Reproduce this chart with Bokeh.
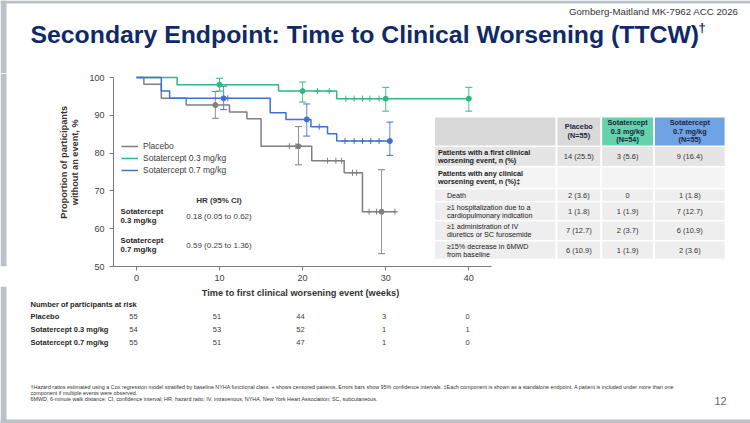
import numpy as np
from bokeh.plotting import figure
from bokeh.layouts import column, row
from bokeh.models import (Range1d, Label, Legend, LegendItem, Whisker, ColumnDataSource,
                          FixedTicker, TeeHead)
from bokeh.embed import file_html
from bokeh.resources import INLINE

# ---------------- data ----------------
groups = ["Placebo", "Sotatercept 0.3 mg/kg", "Sotatercept 0.7 mg/kg"]

placebo_t = [0, 0.9, 3.0, 6.0, 11.2, 13.3, 15.0, 21.1, 25.0, 27.2, 31.3]
placebo_s = [100, 98.2, 94.5, 92.7, 90.9, 89.1, 81.8, 78.0, 74.8, 64.5, 64.5]
low_t = [0, 4.9, 17.1, 24.1, 40.2]
low_s = [100, 98.1, 96.4, 94.4, 94.4]
high_t = [0, 3.0, 4.0, 16.1, 18.0, 21.0, 23.0, 24.1, 30.7]
high_s = [100, 96.4, 94.5, 90.7, 88.9, 87.0, 85.1, 83.2, 83.2]

placebo_cens = [18.4, 19.2, 23.0, 24.0, 24.7, 26.0, 26.5, 28.0, 28.9, 31.1]
low_cens = [21.8, 23.2, 25.2, 26.2, 27.2, 28.1, 29.2]
high_cens = [11.0, 22.0, 25.1, 26.2, 27.2, 28.2, 29.2]

ci_weeks_placebo = [10, 20, 30]
ci_est_placebo = [92.7, 81.8, 64.5]
ci_low_placebo = [89.2, 76.9, 53.4]
ci_up_placebo = [96.3, 87.0, 75.6]

ci_weeks_low = [10, 20, 30, 40]
ci_est_low = [98.1, 96.4, 94.4, 94.4]
ci_low_low = [96.4, 93.5, 91.1, 91.1]
ci_up_low = [99.8, 98.8, 97.4, 97.4]

ci_weeks_high = [10, 20, 30]
ci_est_high = [94.5, 88.9, 83.2]
ci_low_high = [91.5, 84.5, 79.4]
ci_up_high = [97.7, 93.0, 88.2]

x_ticks = [0, 10, 20, 30, 40]
y_ticks = [50, 60, 70, 80, 90, 100]

risk_weeks = [0, 10, 20, 30, 40]
risk_placebo = [55, 51, 44, 3, 0]
risk_low = [54, 53, 52, 1, 1]
risk_high = [55, 51, 47, 1, 0]

hr_rows = ["Sotatercept\n0.3 mg/kg", "Sotatercept\n0.7 mg/kg"]
hr_values = ["0.18 (0.05 to 0.62)", "0.59 (0.25 to 1.36)"]

table_cols = ["Placebo\n(N=55)", "Sotatercept\n0.3 mg/kg\n(N=54)", "Sotatercept\n0.7 mg/kg\n(N=55)"]
table_rows = ["Patients with a first clinical\nworsening event, n (%)",
              "Patients with any clinical\nworsening event, n (%)\u2021",
              "Death",
              "\u22651 hospitalization due to a\ncardiopulmonary indication",
              "\u22651 administration of IV\ndiuretics or SC furosemide",
              "\u226515% decrease in 6MWD\nfrom baseline"]
table_placebo = ["14 (25.5)", "", "2 (3.6)", "1 (1.8)", "7 (12.7)", "6 (10.9)"]
table_low = ["3 (5.6)", "", "0", "1 (1.9)", "2 (3.7)", "1 (1.9)"]
table_high = ["9 (16.4)", "", "1 (1.8)", "7 (12.7)", "6 (10.9)", "2 (3.6)"]

footnotes = [
    "\u2020Hazard ratios estimated using a Cox regression model stratified by baseline NYHA functional class. + shows censored patients. Errors bars show 95% confidence intervals. \u2021Each component is shown as a standalone endpoint. A patient is included under more than one",
    "component if multiple events were observed.",
    "6MWD, 6-minute walk distance; CI, confidence interval; HR, hazard ratio; IV, intravenous; NYHA, New York Heart Association; SC, subcutaneous.",
]

# ---------------- styles / layout ----------------
FONT = "Liberation Sans"
C_PL, C_LO, C_HI = "#7f7f7f", "#2fb784", "#3d70d3"
NAVY = "#0f2a66"
TXT = "#262626"
EDGE = "#bcc0c8"

W, H = 750, 423
TOP_H = 73            # title band
MID_B = 286           # bottom of the chart band
LEFT_W = 86           # width of the y-title strip
FL, FR, FT, FB = 110, 750, 73, 266
X0PX, X40PX = 133, 467
Y100PX, Y50PX = 77, 266
ppw = (X40PX - X0PX) / 40.0
ppu = (Y50PX - Y100PX) / 50.0


def blank(x0, x1, y0, y1):
    f = figure(width=x1 - x0, height=y1 - y0, output_backend="svg", toolbar_location=None,
               x_range=Range1d(x0, x1), y_range=Range1d(y1, y0),
               x_axis_location=None, y_axis_location=None, min_border=0,
               background_fill_color="white", border_fill_color="white")
    f.outline_line_color = None
    f.grid.visible = False
    return f


def lab(f, x, y, text, size=7.0, bold=False, color=TXT, align="left", baseline="middle",
        angle=0.0, xr="default", yr="default"):
    f.add_layout(Label(x=x, y=y, text=text, x_range_name=xr, y_range_name=yr,
                       text_font=FONT, text_font_size=f"{size}px",
                       text_font_style="bold" if bold else "normal",
                       text_color=color, text_align=align, text_baseline=baseline,
                       angle=angle))


def multiline(f, x, y_center, text, size, lh, **kw):
    lines = text.split("\n")
    n = len(lines)
    for i, ln in enumerate(lines):
        lab(f, x, y_center + (i - (n - 1) / 2) * lh, ln, size, **kw)


# ---------------- top band ----------------
top = blank(0, W, 0, TOP_H)
top.quad(left=[0, 0], right=[6, W], top=[0, 0], bottom=[TOP_H, 3], fill_color=EDGE, line_color=None)
lab(top, 30, 34, "Secondary Endpoint: Time to Clinical Worsening (TTCW)", 24.8, bold=True, color=NAVY)
lab(top, 698, 27, "\u2020", 13, bold=True, color=NAVY)
lab(top, 738, 11, "Gomberg-Maitland MK-7962 ACC 2026", 9.7, color="#333333", align="right")

# ---------------- left strip (y title) ----------------
left = blank(0, LEFT_W, TOP_H, MID_B)
left.quad(left=[0], right=[6], top=[TOP_H], bottom=[MID_B], fill_color=EDGE, line_color=None)
lab(left, 63, 171, "Proportion of participants", 9.2, bold=True, color="#333333", align="center", angle=np.pi / 2)
lab(left, 74, 171, "without an event, %", 9.2, bold=True, color="#333333", align="center", angle=np.pi / 2)

# ---------------- chart band ----------------
p = figure(width=W - LEFT_W, height=MID_B - TOP_H, output_backend="svg", toolbar_location=None,
           x_range=Range1d(-(X0PX - FL) / ppw, (FR - X0PX) / ppw),
           y_range=Range1d(50 - (FB - Y50PX) / ppu, 100 + (Y100PX - FT) / ppu),
           min_border_left=FL - LEFT_W, min_border_right=W - FR,
           min_border_top=FT - TOP_H, min_border_bottom=MID_B - FB,
           background_fill_color="white", border_fill_color="white")
p.extra_x_ranges = {"px": Range1d(FL, FR)}
p.extra_y_ranges = {"py": Range1d(FB, FT)}
p.outline_line_color = None
p.grid.visible = False

for ax in (p.xaxis[0], p.yaxis[0]):
    ax.axis_line_color = "#7a7a7a"
    ax.major_tick_line_color = "#7a7a7a"
    ax.major_tick_out = 4
    ax.major_tick_in = 0
    ax.minor_tick_line_color = None
    ax.major_label_text_font = FONT
    ax.major_label_text_font_size = "9px"
    ax.major_label_text_color = "#404040"
p.xaxis[0].major_label_standoff = 4
p.yaxis[0].major_label_standoff = 5
p.xaxis[0].ticker = FixedTicker(ticks=x_ticks)
p.yaxis[0].ticker = FixedTicker(ticks=y_ticks)
p.xaxis[0].bounds = (p.x_range.start, (490 - X0PX) / ppw)
p.yaxis[0].bounds = (50, 100)

# table backgrounds
col_edges = [(433, 554), (556, 599), (601, 652), (654, 724)]
row_edges = [(117, 145), (146.5, 165.5), (167, 187.5), (189, 200.5), (202, 219.5), (221, 239.5), (241, 258)]
row_fill = ["#d9d9d9", "#e5e5e5", "#f4f4f4", "#eeeeee", "#eeeeee", "#eeeeee", "#eeeeee"]
head_fill = ["#d9d9d9", "#d9d9d9", "#64d2ab", "#70a3e6"]
ql, qr, qt, qb, qc = [], [], [], [], []
for ri, (t_, b_) in enumerate(row_edges):
    for ci, (l_, r_) in enumerate(col_edges):
        ql.append(l_); qr.append(r_); qt.append(t_); qb.append(b_)
        qc.append(head_fill[ci] if ri == 0 else row_fill[ri])
p.quad(left=ql, right=qr, top=qt, bottom=qb, fill_color=qc, line_color=None,
       x_range_name="px", y_range_name="py")


def surv_at(ts, ss, c):
    i = np.searchsorted(np.array(ts), np.array(c), side="right") - 1
    return list(np.array(ss)[i])


series = [
    (placebo_t, placebo_s, placebo_cens, ci_weeks_placebo, ci_est_placebo, ci_low_placebo, ci_up_placebo, C_PL, -0.5),
    (low_t, low_s, low_cens, ci_weeks_low, ci_est_low, ci_low_low, ci_up_low, C_LO, 0.0),
    (high_t, high_s, high_cens, ci_weeks_high, ci_est_high, ci_low_high, ci_up_high, C_HI, 0.5),
]
renderers = []
for ts, ss, cens, cw, ce, cl, cu, col, dodge in series:
    r = p.step(ts, ss, mode="after", line_color=col, line_width=1.5)
    renderers.append(r)
    p.scatter(cens, surv_at(ts, ss, cens), marker="cross", size=6, line_color=col, line_width=1)
    xs = [w + dodge for w in cw]
    src = ColumnDataSource(dict(x=xs, lo=cl, up=cu))
    p.add_layout(Whisker(source=src, base="x", lower="lo", upper="up", dimension="height",
                         line_color=col, line_width=1, line_alpha=0.85,
                         upper_head=TeeHead(size=7, line_color=col, line_width=1),
                         lower_head=TeeHead(size=7, line_color=col, line_width=1)))
    p.scatter(xs, ce, marker="circle", size=5, fill_color=col, line_color=col)

legend = Legend(items=[LegendItem(label=g, renderers=[r]) for g, r in zip(groups, renderers)],
                location=(8, 90), background_fill_alpha=0, border_line_color=None,
                padding=0, spacing=0, margin=0, label_text_font=FONT,
                label_text_font_size="8.5px", label_text_color="#404040",
                glyph_width=17, glyph_height=12, label_height=12, label_standoff=5)
p.add_layout(legend)

PX = dict(xr="px", yr="py")
# HR block
lab(p, 216, 200, "HR (95% CI)", 8, bold=True, color="#333333", align="center", **PX)
for rname, val, yc in zip(hr_rows, hr_values, [215.5, 244.5]):
    multiline(p, 117, yc, rname, 7.8, 9.5, bold=True, color="#262626", **PX)
    lab(p, 216, yc, val, 8, color="#404040", align="center", **PX)

# summary table text
col_centers = [577.5, 626.5, 689]
for txt, cx in zip(table_cols, col_centers):
    multiline(p, cx, 130.5, txt, 7.3, 8.6, bold=True, color="#1c2540", align="center", **PX)
row_centers = [156, 176.5, 194.5, 210.5, 230, 249.5]
for ri, (rtxt, yc) in enumerate(zip(table_rows, row_centers)):
    bold = ri < 2
    multiline(p, 436 if bold else 445, yc, rtxt, 7.2, 8.0, bold=bold, color="#1a1a1a", **PX)
    for vals, cx in zip([table_placebo, table_low, table_high], col_centers):
        if vals[ri]:
            lab(p, cx, yc, vals[ri], 7.5, color="#333333", align="center", **PX)

# ---------------- bottom band ----------------
bot = blank(0, W, MID_B, H)
bot.extra_x_ranges = {"wk": Range1d(-X0PX / ppw, (W - X0PX) / ppw)}
bot.quad(left=[0, 0], right=[6, W], top=[MID_B, 419], bottom=[H, H], fill_color=EDGE, line_color=None)
lab(bot, 300, 292, "Time to first clinical worsening event (weeks)", 9.2, bold=True, color="#333333", align="center")
lab(bot, 30, 304, "Number of participants at risk", 7.5, bold=True, color="#262626")
for gname, counts, yy in zip(groups, [risk_placebo, risk_low, risk_high], [316, 329, 342]):
    lab(bot, 30, yy, gname, 7.5, bold=True, color="#262626")
    for w, c in zip(risk_weeks, counts):
        lab(bot, w, yy, str(c), 7.5, color="#404040", align="center", xr="wk")
for i, fn in enumerate(footnotes):
    lab(bot, 30, 386 + 6 * i, fn, 5.4, color="#333333")
lab(bot, 720, 400, "12", 11, color="#666666", align="center")

layout = column(top, row(left, p), bot)
open("out.html", "w").write(file_html(layout, INLINE))
